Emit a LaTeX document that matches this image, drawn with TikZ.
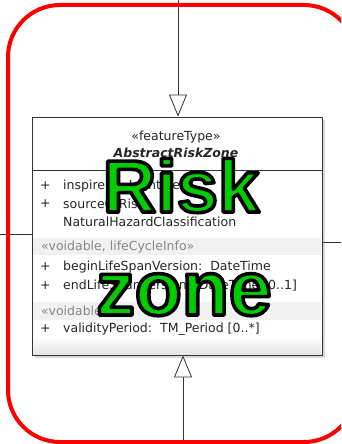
\documentclass[tikz,border=0pt]{standalone}
\usepackage{fontspec}
\setmainfont{DejaVu Sans}
\newfontfamily\bigfont{Liberation Sans}
\usetikzlibrary{arrows.meta,shadows}

\definecolor{riskgreen}{RGB}{0,204,0}
\definecolor{stereogray}{RGB}{135,135,135}
\definecolor{bandgray}{RGB}{241,241,241}

% outlined text: fill + stroke render mode
\newcommand\outlined[1]{\special{pdf:literal direct 2 Tr 3.6 w 1 j 0 0 0 RG}#1\special{pdf:literal direct 0 Tr}}

\tikzset{
  attr/.style={anchor=west,inner sep=0pt,text=black!85,font=\fontsize{12.5}{15}\selectfont},
  stereo/.style={attr,text=stereogray},
  gener/.style={draw=black!80,line width=0.8pt,-{Triangle[open,length=22pt,width=18pt,fill=white]}},
  bigword/.style={anchor=base,inner sep=0pt,text=riskgreen,font=\bigfont\bfseries\fontsize{74}{74}\selectfont}
}

\begin{document}
\begin{tikzpicture}[x=1pt,y=-1pt]

  \pgfmathsetmacro\boxl{32}
  \pgfmathsetmacro\boxr{322}
  \pgfmathsetmacro\plusx{40}
  \pgfmathsetmacro\attrx{63}

  \useasboundingbox (0,0) rectangle (341,444);

% class box
  \node[draw=black!80,fill=white,line width=0.8pt,inner sep=0pt,
        minimum width=290pt,minimum height=238pt,
        drop shadow={shadow xshift=3pt,shadow yshift=-3pt,fill=black!30}] (zone) at (177,236) {};
  \shade[top color=white,bottom color=black!10] (\boxl+1,336) rectangle (\boxr-1,354);
  \fill[bandgray] (\boxl+1,238) rectangle (\boxr-1,255);
  \fill[bandgray] (\boxl+1,302) rectangle (\boxr-1,320);
  \draw[black!80,line width=0.8pt] (\boxl,170) -- (\boxr,170);

% header
  \node[attr,anchor=center] (stype) at (176,137) {«featureType»};
  \node[attr,anchor=center,font=\fontsize{12.5}{15}\selectfont\bfseries\itshape] (cname) at (176,153) {AbstractRiskZone};

% attributes
  \node[attr] (p1) at (\plusx,186) {+};
  \node[attr] (a1) at (\attrx,186) {inspireId:\hspace{8pt}Identifier};
  \node[attr] (p2) at (\plusx,204) {+};
  \node[attr] (a2) at (\attrx,204) {sourceOfRisk:};
  \node[attr] (a3) at (\attrx,222) {NaturalHazardClassification};
  \node[stereo] (s1) at (\plusx+1,247) {«voidable, lifeCycleInfo»};
  \node[attr] (p4) at (\plusx,267) {+};
  \node[attr] (a4) at (\attrx,267) {beginLifeSpanVersion:\hspace{8pt}DateTime};
  \node[attr] (p5) at (\plusx,286) {+};
  \node[attr] (a5) at (\attrx,286) {endLifeSpanVersion:\hspace{8pt}DateTime [0..1]};
  \node[stereo] (s2) at (\plusx+1,311) {«voidable»};
  \node[attr] (p6) at (\plusx,329) {+};
  \node[attr] (a6) at (\attrx,329) {validityPeriod:\hspace{8pt}TM\_Period [0..*]};

% connectors
  \coordinate (topend) at (178,0);
  \coordinate (botend) at (183,444);
  \coordinate (leftend) at (0,234);
  \coordinate (rightend) at (341,242);
  \draw[gener] (topend) -- (topend |- zone.north);
  \draw[gener] (botend) -- (botend |- zone.south);
  \draw[black!80,line width=0.8pt] (leftend) -- (leftend -| zone.west);
  \draw[black!80,line width=0.8pt] (rightend) -- (rightend -| zone.east);

% red frame
  \begin{scope}
    \clip (0,0) rectangle (341,444);
    \draw[red,line width=4pt,rounded corners=52pt] (8,5) rectangle (356,442);
  \end{scope}

% overlay words
  \node[bigword] (risk) at (181,212) {\outlined{Risk}};
  \node[bigword,font=\bigfont\bfseries\fontsize{77}{77}\selectfont] (zword) at (184,315) {\outlined{zone}};

\end{tikzpicture}
\end{document}
